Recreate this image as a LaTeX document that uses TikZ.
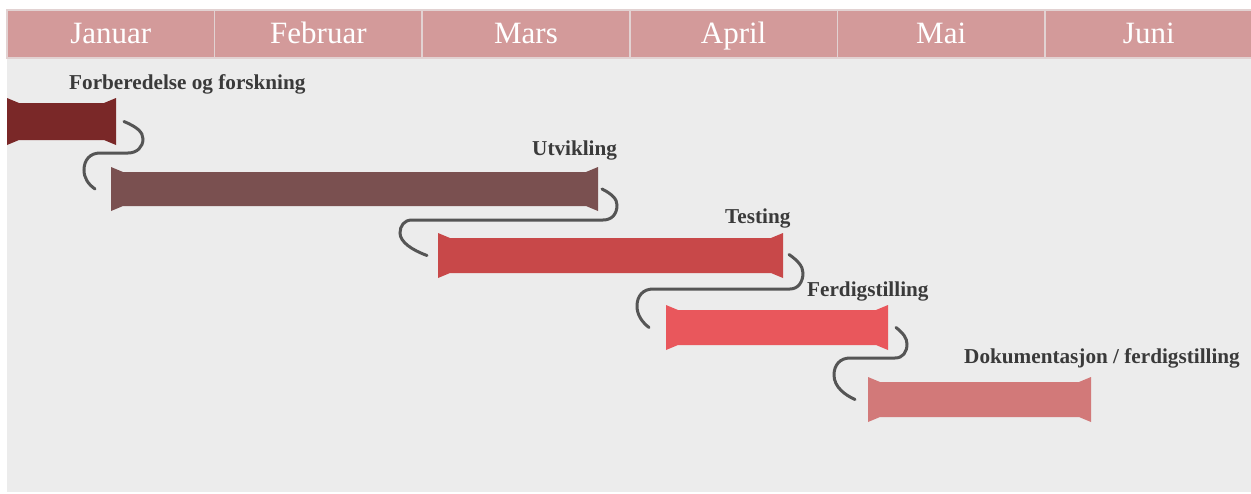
\documentclass[tikz,border=0pt]{standalone}
\usepackage{fontspec}
\setmainfont{Liberation Serif}
\usetikzlibrary{calc,fit}
\definecolor{hdr}{HTML}{D39A9A}
\definecolor{hdrline}{HTML}{E2D2D2}
\definecolor{bg}{HTML}{ECECEC}
\definecolor{cA}{HTML}{7A2828}
\definecolor{cB}{HTML}{7A5050}
\definecolor{cC}{HTML}{C84849}
\definecolor{cD}{HTML}{E9575C}
\definecolor{cE}{HTML}{D27979}
\definecolor{conn}{HTML}{555555}
\definecolor{lbl}{HTML}{3A3A3A}
\tikzset{
  month/.style={rectangle, fill=hdr, draw=hdrline, line width=1.5pt, minimum width=207.6, minimum height=48, inner sep=0, text height=18.5, text depth=0, text=white, font=\fontsize{31}{36}\selectfont},
  tasklabel/.style={anchor=base west, inner sep=0, text=lbl, font=\fontsize{21.2}{25}\selectfont\bfseries},
  barbox/.style={inner sep=0, outer sep=0},
  sconn/.style={draw=conn, line width=3pt, line cap=round}
}
\newcommand\ganttbar[6]{%
  \path (#2,#4) coordinate (#1-nw) (#3,#5) coordinate (#1-se);
  \node[barbox, fit=(#1-nw)(#1-se)] (#1) {};
  \fill[#6] ($(#1.north west)+(0,-5)$) -- ($(#1.north west)+(12,0)$) -- ($(#1.north east)+(-12,0)$) -- ($(#1.north east)+(0,-5)$) -- ($(#1.south east)+(0,5)$) -- ($(#1.south east)+(-12,0)$) -- ($(#1.south west)+(12,0)$) -- ($(#1.south west)+(0,5)$) -- cycle;
}
\begin{document}
\begin{tikzpicture}[x=1pt,y=-1pt]
\useasboundingbox (0,0) rectangle (1251,493);
\fill[white] (0,0) rectangle (1251,493);
\fill[bg] (7,58) rectangle (1251,492);
% header
\foreach \m [count=\i from 0] in {Januar,Februar,Mars,April,Mai,Juni}{
  \node[month] (m\i) at (7+103.8+207.6*\i,34) {\m};
}
% bars
\ganttbar{b1}{7}{116}{103}{140}{cA}
\ganttbar{b2}{111}{598}{172}{206}{cB}
\ganttbar{b3}{438}{783}{238}{273}{cC}
\ganttbar{b4}{666}{888}{310}{345}{cD}
\ganttbar{b5}{868}{1091}{382}{417}{cE}
% labels
\node[tasklabel] (l1) at (69,89) {Forberedelse og forskning};
\node[tasklabel] (l2) at (532,155) {Utvikling};
\node[tasklabel] (l3) at (725,223) {Testing};
\node[tasklabel] (l4) at (807,296) {Ferdigstilling};
\node[tasklabel] (l5) at (964,363) {Dokumentasjon / ferdigstilling};
% connectors
\draw[sconn] ($(b1.east)+(8,0)$) .. controls (137,127) and (143,132) .. (143,139) .. controls (143,147) and (137,153) .. (128,153) -- (100,153) .. controls (90,153) and (84,160) .. (84,170) .. controls (84,178) and (88,184) .. ($(b2.west)+(-16,0)$);
\draw[sconn] ($(b2.east)+(4,0)$) .. controls (612,194) and (617,199) .. (617,205) .. controls (617,214) and (612,220) .. (603,220) -- (412,220) .. controls (404,220) and (400,226) .. (400,233) .. controls (400,242) and (412,250) .. ($(b3.west)+(-11,0)$);
\draw[sconn] ($(b3.east)+(6,-1)$) .. controls (797,260) and (803,266) .. (803,273) .. controls (803,282) and (798,289) .. (790,289) -- (653,289) .. controls (643,289) and (637,296) .. (637,306) .. controls (637,315) and (642,322) .. ($(b4.west)+(-17,0)$);
\draw[sconn] ($(b4.east)+(8,0)$) .. controls (903,333) and (907,338) .. (907,344) .. controls (907,352) and (903,358) .. (895,358) -- (850,358) .. controls (840,358) and (834,365) .. (834,375) .. controls (834,387) and (845,395) .. ($(b5.west)+(-13,0)$);
\end{tikzpicture}
\end{document}
